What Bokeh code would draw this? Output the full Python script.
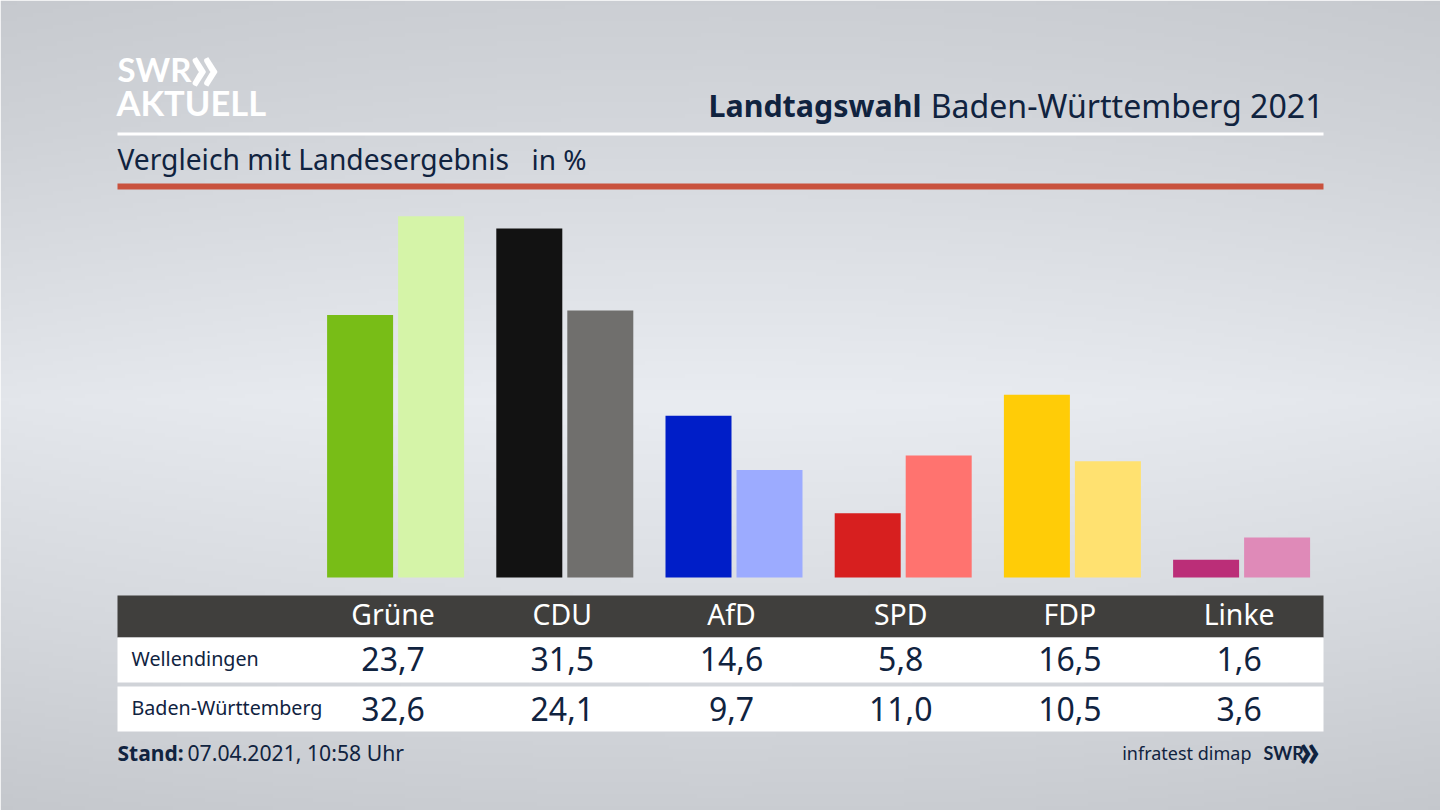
import numpy as np
from bokeh.plotting import figure
from bokeh.models import Range1d
from bokeh.core.properties import value
from bokeh.embed import file_html
from bokeh.resources import INLINE

parties = ["Grüne", "CDU", "AfD", "SPD", "FDP", "Linke"]
wellendingen = [23.7, 31.5, 14.6, 5.8, 16.5, 1.6]
baden_wuerttemberg = [32.6, 24.1, 9.7, 11.0, 10.5, 3.6]
colors_local = ["#78bd17", "#121212", "#001ec8", "#d71f1f", "#ffcc07", "#bb2e78"]
colors_state = ["#d5f4a8", "#706f6d", "#9cabff", "#ff736f", "#ffe170", "#df8ab8"]
row_labels = ["Wellendingen", "Baden-Württemberg"]

FONT = "Noto Sans"
INK = "#10233f"
SCALE = 11.08
BASE = 577
W_PX, H_PX = 1440, 810


def Y(r):
    return (BASE - r) / SCALE


def fmt(v):
    return f"{v:.1f}".replace(".", ",")


p = figure(width=W_PX, height=H_PX, x_range=Range1d(0, W_PX), y_range=Range1d(Y(H_PX), Y(0)),
           tools="", toolbar_location=None, output_backend="svg", min_border=0)
p.axis.visible = False
p.grid.visible = False
p.outline_line_color = None

# background gradient
H, W = 200, 360
ry = np.linspace(H_PX, 0, H)
rx = np.linspace(0, W_PX, W)
level = np.interp(ry, [0, 130, 400, 640, 810], [207, 215, 236, 219, 205])
edge = 1 - 0.025 * (np.abs(rx - 720) / 720) ** 2
vals = np.outer(level, edge)
img = np.zeros((H, W), dtype=np.uint32)
v = img.view(dtype=np.uint8).reshape((H, W, 4))
v[..., 0] = (vals - 3).clip(0, 255)
v[..., 1] = vals.clip(0, 255)
v[..., 2] = (vals + 5).clip(0, 255)
v[..., 3] = 255
p.image_rgba(image=[img], x=0, y=Y(H_PX), dw=W_PX, dh=Y(0) - Y(H_PX))

# rules and table bands
p.quad(left=[117], right=[1323], top=[Y(132)], bottom=[Y(135)], color="#ffffff", line_width=0)
p.quad(left=[117], right=[1323], top=[Y(183)], bottom=[Y(189)], color="#c9523e", line_width=0)
p.quad(left=[117], right=[1323], top=[Y(595)], bottom=[Y(637)], color="#403f3d", line_width=0)
p.quad(left=[117, 117], right=[1323, 1323], top=[Y(637), Y(686)], bottom=[Y(682), Y(731)],
       color="#ffffff", line_width=0)

# bars
centers = [392.6 + i * 169.2 for i in range(len(parties))]
p.vbar(x=[c - 33 for c in centers], width=66, bottom=0, top=wellendingen, color=colors_local, line_width=0)
p.vbar(x=[c + 38 for c in centers], width=66, bottom=0, top=baden_wuerttemberg, color=colors_state, line_width=0)


def T(x, r, s, size, color=INK, align="left", style="normal", font=FONT):
    p.text(x=[x], y=[Y(r)], text=[s], text_font=value(font), text_font_size=f"{size}px",
           text_color=color, text_align=align, text_baseline="middle", text_font_style=style)


# logo
T(117, 68, "SWR", 33, "#ffffff", style="bold", font="Lato")
T(188, 63, "»", 70, "#ffffff", style="bold", font="Lato")
T(116, 102, "AKTUELL", 34.5, "#ffffff", style="bold", font="Lato")

# titles
T(1323, 105, "Baden-Württemberg 2021", 32.1, align="right")
T(921, 105, "Landtagswahl", 30.4, align="right", style="bold")
T(117, 158, "Vergleich mit Landesergebnis", 28.2)
T(531, 158, "in %", 28)

# table text
for c, name, a, b in zip(centers, parties, wellendingen, baden_wuerttemberg):
    T(c, 613, name, 28.4, "#ffffff", align="center")
    T(c, 658, fmt(a), 32, align="center")
    T(c, 708, fmt(b), 32, align="center")
T(131, 658, row_labels[0], 19.7)
T(131, 707, row_labels[1], 19.7)

# footer
T(117, 752, "Stand:", 21, style="bold")
T(187, 752, "07.04.2021, 10:58 Uhr", 21.2)
T(1251, 752, "infratest dimap", 18, align="right")
T(1263, 752, "SWR", 18, style="bold", font="Lato")
T(1298, 748, "»", 48, style="bold", font="Lato")

html = file_html(p, INLINE)
open("out.html", "w").write(html)
